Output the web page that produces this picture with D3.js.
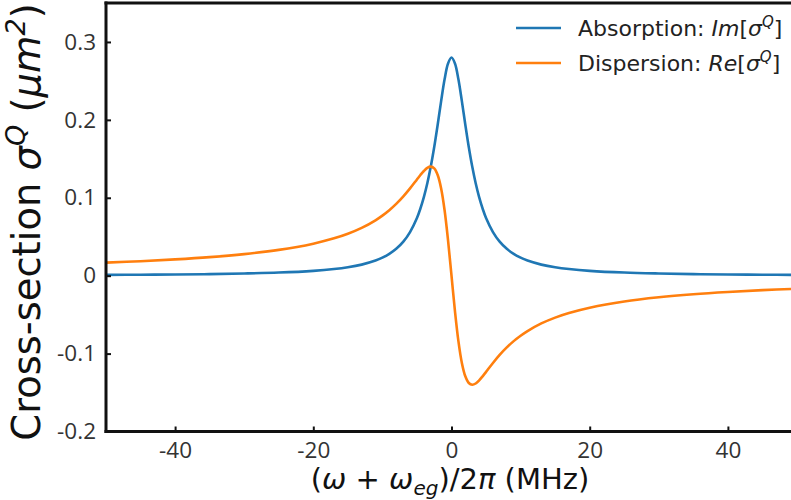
<!DOCTYPE html>
<html><head><meta charset="utf-8">
<script src="https://cdn.jsdelivr.net/npm/d3@7"></script>
<style>
html,body{margin:0;padding:0;background:#fff;overflow:hidden}
svg{display:block}
</style></head>
<body>
<svg id="chart" width="791" height="500"></svg>
<script>
// Detuning (MHz)
const detuning = [-50,-45,-40,-35,-30,-25,-20,-17,-15,-13,-11,-10,-9,-8,-7,-6,-5,-4.5,-4,-3.5,-3,-2.5,-2,-1.5,-1,-0.5,0,
  0.5,1,1.5,2,2.5,3,3.5,4,4.5,5,6,7,8,9,10,11,13,15,17,20,25,30,35,40,45,50];
// Absorption Im[sigma^Q] (um^2)
const absorption = [0.0010,0.0012,0.0016,0.0020,0.0028,0.0040,0.0062,0.0085,0.0108,0.0142,0.0194,0.0231,0.0280,0.0345,0.0434,0.0560,0.0741,0.0862,0.1008,0.1186,0.1400,0.1652,0.1938,0.2240,0.2520,0.2724,0.2800,
  0.2724,0.2520,0.2240,0.1938,0.1652,0.1400,0.1186,0.1008,0.0862,0.0741,0.0560,0.0434,0.0345,0.0280,0.0231,0.0194,0.0142,0.0108,0.0085,0.0062,0.0040,0.0028,0.0020,0.0016,0.0012,0.0010];
// Dispersion Re[sigma^Q] (um^2)
const dispersion = [0.0167,0.0186,0.0209,0.0238,0.0277,0.0331,0.0411,0.0479,0.0538,0.0613,0.0711,0.0771,0.0840,0.0921,0.1014,0.1120,0.1235,0.1292,0.1344,0.1384,0.1400,0.1377,0.1292,0.1120,0.0840,0.0454,0.0000,
  -0.0454,-0.0840,-0.1120,-0.1292,-0.1377,-0.1400,-0.1384,-0.1344,-0.1292,-0.1235,-0.1120,-0.1014,-0.0921,-0.0840,-0.0771,-0.0711,-0.0613,-0.0538,-0.0479,-0.0411,-0.0331,-0.0277,-0.0238,-0.0209,-0.0186,-0.0167];
const xTicks = [-40,-20,0,20,40];
const xTickLabels = ["-40","-20","0","20","40"];
const yTicks = [-0.2,-0.1,0,0.1,0.2,0.3];
const yTickLabels = ["-0.2","-0.1","0","0.1","0.2","0.3"];

const svg = d3.select("#chart");
const L = 106, R = 797, T = 3, B = 431.5;
const x = d3.scaleLinear().domain([-50,50]).range([L,R]);
const y = d3.scaleLinear().domain([-0.2,0.35]).range([B,T]);

const line = (vals) => d3.line()
  .x((d,i)=>x(detuning[i])).y(d=>y(d))
  .curve(d3.curveCatmullRom.alpha(0.5))(vals);

svg.append("clipPath").attr("id","clp").append("rect")
  .attr("x",L).attr("y",T).attr("width",R-L).attr("height",B-T);

const g = svg.append("g").attr("clip-path","url(#clp)");
g.append("path").attr("d",line(absorption)).attr("fill","none")
  .attr("stroke","#1f77b4").attr("stroke-width",2.6).attr("stroke-linejoin","round");
g.append("path").attr("d",line(dispersion)).attr("fill","none")
  .attr("stroke","#ff7f0e").attr("stroke-width",2.6).attr("stroke-linejoin","round");

// axes
const tickFont = "'Open Sans', sans-serif";
const xAxis = d3.axisBottom(x).tickValues(xTicks).tickSize(-5).tickPadding(11).tickFormat((d,i)=>xTickLabels[i]);
const yAxis = d3.axisLeft(y).tickValues(yTicks).tickSize(-5).tickPadding(10).tickFormat((d,i)=>yTickLabels[i]);
const gx = svg.append("g").attr("transform",`translate(0,${B})`).call(xAxis);
const gy = svg.append("g").attr("transform",`translate(${L},0)`).call(yAxis);
[gx,gy].forEach(a=>{
  a.select(".domain").remove();
  a.selectAll(".tick line").attr("stroke","#111").attr("stroke-width",2);
  a.selectAll(".tick text").attr("font-family",tickFont).attr("font-size",22.5).attr("fill","#333");
});
// spines
svg.append("line").attr("x1",L).attr("x2",L).attr("y1",T-1.5).attr("y2",B+1.5).attr("stroke","#111").attr("stroke-width",3);
svg.append("line").attr("x1",L-1.5).attr("x2",R).attr("y1",B).attr("y2",B).attr("stroke","#111").attr("stroke-width",3);
svg.append("line").attr("x1",L-1.5).attr("x2",R).attr("y1",T).attr("y2",T).attr("stroke","#111").attr("stroke-width",3);

const lf = "'DejaVu Sans', sans-serif";
// x label
const xl = svg.append("text").attr("x",450).attr("y",489).attr("text-anchor","middle")
  .attr("font-family",lf).attr("font-size",29).attr("fill","#111");
xl.append("tspan").text("(");
xl.append("tspan").attr("font-style","italic").text("ω");
xl.append("tspan").text(" + ");
xl.append("tspan").attr("font-style","italic").text("ω");
xl.append("tspan").attr("font-style","italic").attr("font-size",20).attr("dy",6).text("eg");
xl.append("tspan").attr("dy",-6).text(")/2");
xl.append("tspan").attr("font-style","italic").text("π");
xl.append("tspan").text(" (MHz)");

// y label
const yl = svg.append("text").attr("transform","translate(40,222) rotate(-90)").attr("text-anchor","middle")
  .attr("font-family",lf).attr("font-size",38.5).attr("fill","#111");
yl.append("tspan").text("Cross-section ");
yl.append("tspan").attr("font-style","italic").text("σ");
yl.append("tspan").attr("font-style","italic").attr("font-size",27).attr("dy",-15).text("Q");
yl.append("tspan").attr("dy",15).text(" (");
yl.append("tspan").attr("font-style","italic").text("μm");
yl.append("tspan").attr("font-style","italic").attr("font-size",27).attr("dy",-15).text("2");
yl.append("tspan").attr("dy",15).text(")");

// legend
const legend = [
  {name:"Absorption: ", fn:"Im", color:"#1f77b4"},
  {name:"Dispersion: ", fn:"Re", color:"#ff7f0e"}
];
legend.forEach((d,i)=>{
  const yy = 28 + i*35;
  svg.append("line").attr("x1",516).attr("x2",561).attr("y1",yy).attr("y2",yy)
    .attr("stroke",d.color).attr("stroke-width",2.6);
  const t = svg.append("text").attr("x",578).attr("y",yy+7.5).attr("font-family",lf)
    .attr("font-size",22).attr("fill","#222");
  t.append("tspan").text(d.name);
  t.append("tspan").attr("font-style","italic").text(d.fn);
  t.append("tspan").text("[");
  t.append("tspan").attr("font-style","italic").text("σ");
  t.append("tspan").attr("font-style","italic").attr("font-size",15).attr("dy",-9).text("Q");
  t.append("tspan").attr("dy",9).text("]");
});
</script>
</body></html>
